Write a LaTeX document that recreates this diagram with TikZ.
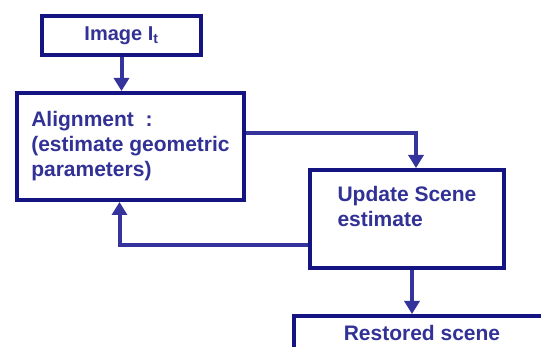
\documentclass[tikz,border=0pt]{standalone}
\usepackage{fontspec}
\setmainfont{Liberation Sans}
\usetikzlibrary{arrows.meta, positioning, calc}
\definecolor{boxC}  {RGB}{ 20,  20, 130}
\definecolor{lineC} {RGB}{ 52,  52, 156}
\definecolor{textC} {RGB}{ 50,  50, 150}

\begin{document}
\begin{tikzpicture}[x=1pt, y=-1pt,
  blockbox/.style={draw=boxC, line width=4pt, fill=white, align=left,
    text=textC, font=\fontsize{21}{25}\selectfont\bfseries, inner sep=0pt},
  conn/.style={lineC, line width=4pt,
    -{Triangle[length=13pt, width=15pt]}},
  link/.style={lineC, line width=4pt}]

% ============================================================
% Canvas (same size as the reference)
% ============================================================
\clip (0,0) rectangle (541,347);
\fill[white] (0,0) rectangle (541,347);

% ============================================================
% Blocks
% ============================================================
\node[blockbox, minimum width=159pt, minimum height=39pt,
      font=\fontsize{20}{24}\selectfont\bfseries] (img) at (121.5,35.5)
  {Image I\textsubscript{t}};
\node[blockbox, minimum width=227pt, minimum height=107pt] (align) at (130.5,146.5)
  {Alignment~~:\\(estimate geometric\\parameters)};
\node[blockbox, minimum width=194pt, minimum height=98pt] (update) at (407,219)
  {Update Scene\\estimate\\\mbox{}};
\node[blockbox, anchor=north west, minimum width=256pt, minimum height=34pt]
  (rest) at (292,314) {Restored scene};

% ============================================================
% Connectors
% ============================================================
\draw[conn] (img) -- (img |- align.north);
\draw[conn] ([yshift=13pt]align.east) -| ([xshift=9pt]update.north);
\draw[conn] ([yshift=-26pt]update.west) -| ([xshift=-11pt]align.south);
\coordinate (upout) at ([xshift=5pt]update.south);
\draw[conn] (upout) -- (upout |- rest.north);

\end{tikzpicture}
\end{document}
